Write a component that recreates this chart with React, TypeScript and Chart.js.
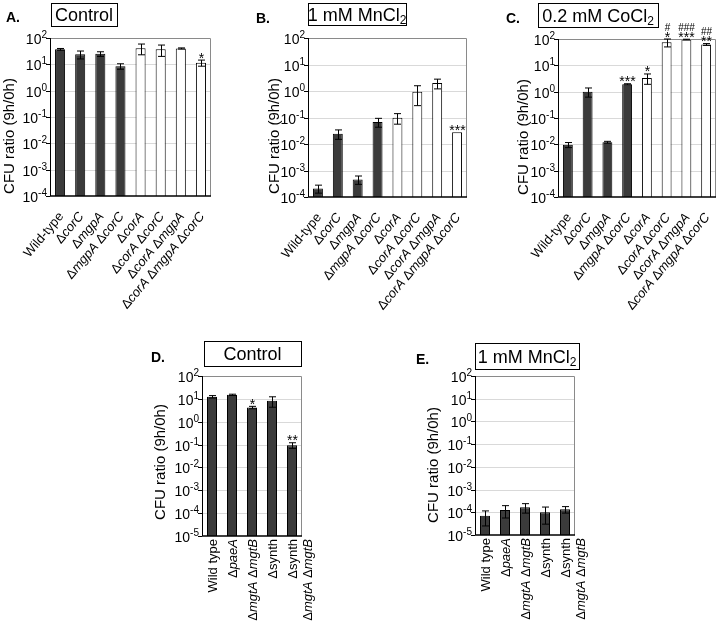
import { useEffect, useRef } from "react";
import { Chart, registerables } from "chart.js";
import type { Plugin } from "chart.js";

Chart.register(...registerables);

const FONT = '"Liberation Sans", Arial, Helvetica, sans-serif';

// ---- data -------------------------------------------------------------
const topStrains = [
  "Wild-type",
  "ΔcorC",
  "ΔmgpA",
  "ΔmgpA ΔcorC",
  "ΔcorA",
  "ΔcorA ΔcorC",
  "ΔcorA ΔmgpA",
  "ΔcorA ΔmgpA ΔcorC",
];
const bottomStrains: (string | string[])[] = [
  "Wild type",
  "ΔpaeA",
  "ΔmgtA ΔmgtB",
  "Δsynth",
  ["Δsynth", "ΔmgtA ΔmgtB"],
];

const controlTop = [37, 24, 25, 8.5, 41, 37, 40, 11.5];
const controlTopSd = [3, 8, 5, 2, 18, 17, 2, 3];
const controlTopSig = ["", "", "", "", "", "", "", "*"];

const manganeseTop = [2.1e-4, 0.0245, 4.6e-4, 0.068, 0.098, 0.93, 2.0, 0.0275];
const manganeseTopSd = [0.7e-4, 0.0095, 1.6e-4, 0.025, 0.042, 0.65, 0.8, 0];
const manganeseTopSig = ["", "", "", "", "", "", "", "***"];

const cobaltTop = [0.0096, 1.0, 0.012, 1.9, 3.3, 75, 95, 62];
const cobaltTopSd = [0.0021, 0.38, 0.001, 0.1, 1.4, 25, 3, 5];
const cobaltTopSig = ["", "", "", "***", "*", "*", "***", "**"];
const cobaltTopHash = ["", "", "", "", "", "#", "###", "##"];

const controlBottom = [12.4, 15, 4.2, 8.3, 0.094];
const controlBottomSd = [1.5, 1, 0.5, 4, 0.026];
const controlBottomSig = ["", "", "*", "", "**"];

const manganeseBottom = [7e-5, 1.26e-4, 1.66e-4, 1.0e-4, 1.35e-4];
const manganeseBottomSd = [4.5e-5, 7e-5, 7.4e-5, 7e-5, 4.3e-5];

const yTitle = "CFU ratio (9h/0h)";
const plainNames = ["synth"];

// ---- drawing helpers --------------------------------------------------
interface Seg {
  text: string;
  italic?: boolean;
}

function labelSegs(label: string): Seg[] {
  const segs: Seg[] = [];
  label.split(" ").forEach((word, i) => {
    if (i > 0) segs.push({ text: " " });
    if (word.startsWith("Δ")) {
      const name = word.slice(1);
      segs.push({ text: "Δ" });
      segs.push({ text: name, italic: !plainNames.includes(name) });
    } else {
      segs.push({ text: word });
    }
  });
  return segs;
}

function drawSegs(
  ctx: CanvasRenderingContext2D,
  segs: Seg[],
  x: number,
  y: number,
  size: number,
  align: "left" | "right" | "center"
) {
  const fontFor = (s: Seg) => `${s.italic ? "italic " : ""}${size}px ${FONT}`;
  let total = 0;
  const widths = segs.map((s) => {
    ctx.font = fontFor(s);
    const w = ctx.measureText(s.text).width;
    total += w;
    return w;
  });
  let cx = align === "left" ? x : align === "right" ? x - total : x - total / 2;
  ctx.textAlign = "left";
  ctx.textBaseline = "alphabetic";
  segs.forEach((s, i) => {
    ctx.font = fontFor(s);
    ctx.fillText(s.text, cx, y);
    cx += widths[i];
  });
}

// ---- panel ------------------------------------------------------------
interface Box {
  x: number;
  y: number;
  w: number;
  h: number;
}

interface PanelSpec {
  left: number;
  top: number;
  width: number;
  height: number;
  area: { l: number; t: number; r: number; b: number };
  letter: string;
  letterAt: [number, number];
  title: [string, string];
  box: Box;
  yTitleAt: [number, number];
  labels: (string | string[])[];
  values: number[];
  sd: number[];
  sig?: string[];
  hash?: string[];
  fills: string[];
  minExp: number;
  maxExp: number;
  rotation: number;
}

const DARK = "#3b3b3b";
const topFills = topStrains.map((_, i) => (i < 4 ? DARK : "#ffffff"));
const bottomFills = bottomStrains.map(() => DARK);

function Panel({ spec }: { spec: PanelSpec }) {
  const canvasRef = useRef<HTMLCanvasElement | null>(null);

  useEffect(() => {
    const canvas = canvasRef.current;
    if (!canvas) return;
    const ox = spec.left;
    const oy = spec.top;

    const decor: Plugin<"bar"> = {
      id: "decor",
      beforeDatasetsDraw(chart) {
        const { ctx, chartArea: a } = chart;
        const y = chart.scales.y;
        ctx.save();
        ctx.strokeStyle = "#d9d9d9";
        ctx.lineWidth = 1;
        for (let e = spec.minExp + 1; e < spec.maxExp; e++) {
          const py = Math.round(y.getPixelForValue(10 ** e)) + 0.5;
          ctx.beginPath();
          ctx.moveTo(a.left, py);
          ctx.lineTo(a.right, py);
          ctx.stroke();
        }
        ctx.restore();
      },
      afterDatasetsDraw(chart) {
        const { ctx, chartArea: a } = chart;
        const x = chart.scales.x;
        const y = chart.scales.y;
        ctx.save();

        // frame
        ctx.lineWidth = 1;
        ctx.strokeStyle = "#8a8a8a";
        ctx.beginPath();
        ctx.moveTo(a.left, a.top + 0.5);
        ctx.lineTo(a.right - 0.5, a.top + 0.5);
        ctx.lineTo(a.right - 0.5, a.bottom);
        ctx.stroke();
        ctx.strokeStyle = "#000";
        ctx.beginPath();
        ctx.moveTo(a.left + 0.5, a.top);
        ctx.lineTo(a.left + 0.5, a.bottom);
        ctx.stroke();
        ctx.lineWidth = 1.5;
        ctx.beginPath();
        ctx.moveTo(a.left, a.bottom);
        ctx.lineTo(a.right, a.bottom);
        ctx.stroke();

        // y ticks and labels
        ctx.lineWidth = 1;
        ctx.fillStyle = "#000";
        for (let e = spec.minExp; e <= spec.maxExp; e++) {
          const py = Math.round(y.getPixelForValue(10 ** e)) + 0.5;
          ctx.beginPath();
          ctx.moveTo(a.left - 4, py);
          ctx.lineTo(a.left, py);
          ctx.stroke();
          const ex = `${e}`;
          ctx.font = `10px ${FONT}`;
          const ew = ctx.measureText(ex).width;
          ctx.textBaseline = "alphabetic";
          ctx.textAlign = "left";
          const right = a.left - 3;
          ctx.fillText(ex, right - ew, py - 1);
          ctx.font = `14px ${FONT}`;
          ctx.textAlign = "right";
          ctx.fillText("10", right - ew, py + 5);
        }

        // error bars and significance marks
        ctx.strokeStyle = "#000";
        ctx.lineWidth = 1;
        spec.values.forEach((v, i) => {
          const px = Math.round(x.getPixelForValue(i)) + 0.5;
          const sd = spec.sd[i];
          const hiV = v + sd;
          const loV = Math.max(v - sd, 10 ** spec.minExp);
          const hi = y.getPixelForValue(hiV);
          const lo = y.getPixelForValue(loV);
          if (sd > 0) {
            ctx.beginPath();
            ctx.moveTo(px, hi);
            ctx.lineTo(px, lo);
            ctx.moveTo(px - 3.5, hi);
            ctx.lineTo(px + 3.5, hi);
            ctx.moveTo(px - 3.5, lo);
            ctx.lineTo(px + 3.5, lo);
            ctx.stroke();
          }
          const mark = spec.sig?.[i];
          if (mark) {
            const base = hi + 2.5;
            ctx.font = `14px ${FONT}`;
            ctx.textAlign = "center";
            ctx.textBaseline = "alphabetic";
            ctx.fillText(mark, px, base);
            const h = spec.hash?.[i];
            if (h) {
              ctx.font = `10px ${FONT}`;
              ctx.fillText(h, px, base - 11);
            }
          }
        });

        // category labels
        ctx.fillStyle = "#000";
        spec.labels.forEach((lab, i) => {
          const px = x.getPixelForValue(i);
          const lines = Array.isArray(lab) ? lab : [lab];
          ctx.save();
          if (spec.rotation === 90) {
            ctx.translate(px, a.bottom + 3);
            ctx.rotate(-Math.PI / 2);
            lines.forEach((ln, k) => drawSegs(ctx, labelSegs(ln), 0, 4.5 + k * 15, 13, "right"));
          } else {
            ctx.translate(px + 1, a.bottom + 18);
            ctx.rotate((-spec.rotation * Math.PI) / 180);
            lines.forEach((ln, k) => drawSegs(ctx, labelSegs(ln), 0, 4 + k * 14, 13, "right"));
          }
          ctx.restore();
        });

        // y axis title
        ctx.save();
        ctx.translate(spec.yTitleAt[0] - ox, spec.yTitleAt[1] - oy);
        ctx.rotate(-Math.PI / 2);
        ctx.font = `15px ${FONT}`;
        ctx.textAlign = "center";
        ctx.textBaseline = "middle";
        ctx.fillText(yTitle, 0, 0);
        ctx.restore();

        // panel letter
        ctx.font = `bold 14px ${FONT}`;
        ctx.textAlign = "left";
        ctx.textBaseline = "alphabetic";
        ctx.fillText(spec.letter, spec.letterAt[0] - ox, spec.letterAt[1] - oy);

        // title box
        const b = spec.box;
        const bx = b.x - ox;
        const by = b.y - oy;
        ctx.fillStyle = "#fff";
        ctx.fillRect(bx, by, b.w, b.h);
        ctx.strokeStyle = "#000";
        ctx.lineWidth = 1;
        ctx.strokeRect(bx + 0.5, by + 0.5, b.w, b.h);
        ctx.fillStyle = "#000";
        ctx.font = `18px ${FONT}`;
        const [main, sub] = spec.title;
        const mw = ctx.measureText(main).width;
        ctx.font = `12px ${FONT}`;
        const sw = sub ? ctx.measureText(sub).width : 0;
        const sx = bx + b.w / 2 - (mw + sw) / 2;
        const base = by + b.h / 2 + 6.5;
        ctx.textAlign = "left";
        ctx.font = `18px ${FONT}`;
        ctx.fillText(main, sx, base);
        if (sub) {
          ctx.font = `12px ${FONT}`;
          ctx.fillText(sub, sx + mw, base + 3);
        }

        ctx.restore();
      },
    };

    const chart = new Chart(canvas, {
      type: "bar",
      data: {
        labels: spec.labels.map((l) => (Array.isArray(l) ? l.join(" ") : l)),
        datasets: [
          {
            data: spec.values,
            backgroundColor: spec.fills,
            borderColor: "#000",
            borderWidth: 1,
            barPercentage: 0.5,
            categoryPercentage: 1,
          },
        ],
      },
      options: {
        animation: false,
        responsive: false,
        maintainAspectRatio: false,
        layout: {
          padding: {
            left: spec.area.l - ox,
            top: spec.area.t - oy,
            right: ox + spec.width - spec.area.r,
            bottom: oy + spec.height - spec.area.b,
          },
        },
        plugins: {
          legend: { display: false },
          tooltip: { enabled: false },
        },
        scales: {
          x: { type: "category", display: false, offset: true },
          y: {
            type: "logarithmic",
            display: false,
            min: 10 ** spec.minExp,
            max: 10 ** spec.maxExp,
          },
        },
      },
      plugins: [decor],
    });

    return () => {
      chart.destroy();
    };
  }, [spec]);

  return (
    <canvas
      ref={canvasRef}
      width={spec.width}
      height={spec.height}
      style={{
        position: "absolute",
        left: spec.left,
        top: spec.top,
        width: spec.width,
        height: spec.height,
      }}
    />
  );
}

const panels: PanelSpec[] = [
  {
    left: 0,
    top: 0,
    width: 240,
    height: 320,
    area: { l: 50, t: 38, r: 211, b: 196 },
    letter: "A.",
    letterAt: [6, 22],
    title: ["Control", ""],
    box: { x: 51, y: 3, w: 66, h: 23 },
    yTitleAt: [10, 136],
    labels: topStrains,
    values: controlTop,
    sd: controlTopSd,
    sig: controlTopSig,
    fills: topFills,
    minExp: -4,
    maxExp: 2,
    rotation: 50,
  },
  {
    left: 240,
    top: 0,
    width: 240,
    height: 320,
    area: { l: 308, t: 38, r: 467, b: 197 },
    letter: "B.",
    letterAt: [256, 23],
    title: ["1 mM MnCl", "2"],
    box: { x: 308, y: 3, w: 98, h: 22 },
    yTitleAt: [275, 136],
    labels: topStrains,
    values: manganeseTop,
    sd: manganeseTopSd,
    sig: manganeseTopSig,
    fills: topFills,
    minExp: -4,
    maxExp: 2,
    rotation: 50,
  },
  {
    left: 480,
    top: 0,
    width: 240,
    height: 320,
    area: { l: 558, t: 39, r: 716, b: 197 },
    letter: "C.",
    letterAt: [506, 23],
    title: ["0.2 mM CoCl", "2"],
    box: { x: 538, y: 3, w: 120, h: 24 },
    yTitleAt: [524, 137],
    labels: topStrains,
    values: cobaltTop,
    sd: cobaltTopSd,
    sig: cobaltTopSig,
    hash: cobaltTopHash,
    fills: topFills,
    minExp: -4,
    maxExp: 2,
    rotation: 50,
  },
  {
    left: 140,
    top: 320,
    width: 200,
    height: 302,
    area: { l: 202, t: 376, r: 302, b: 536 },
    letter: "D.",
    letterAt: [151, 362],
    title: ["Control", ""],
    box: { x: 204, y: 341, w: 97, h: 25 },
    yTitleAt: [161, 462],
    labels: bottomStrains,
    values: controlBottom,
    sd: controlBottomSd,
    sig: controlBottomSig,
    fills: bottomFills,
    minExp: -5,
    maxExp: 2,
    rotation: 90,
  },
  {
    left: 400,
    top: 320,
    width: 220,
    height: 302,
    area: { l: 475, t: 376, r: 575, b: 535 },
    letter: "E.",
    letterAt: [416, 364],
    title: ["1 mM MnCl", "2"],
    box: { x: 475, y: 343, w: 104, h: 26 },
    yTitleAt: [434, 465],
    labels: bottomStrains,
    values: manganeseBottom,
    sd: manganeseBottomSd,
    fills: bottomFills,
    minExp: -5,
    maxExp: 2,
    rotation: 90,
  },
];

export default function App() {
  return (
    <div
      style={{
        position: "fixed",
        left: 0,
        top: 0,
        width: 720,
        height: 622,
        background: "#fff",
      }}
    >
      {panels.map((p) => (
        <Panel key={p.letter} spec={p} />
      ))}
    </div>
  );
}
